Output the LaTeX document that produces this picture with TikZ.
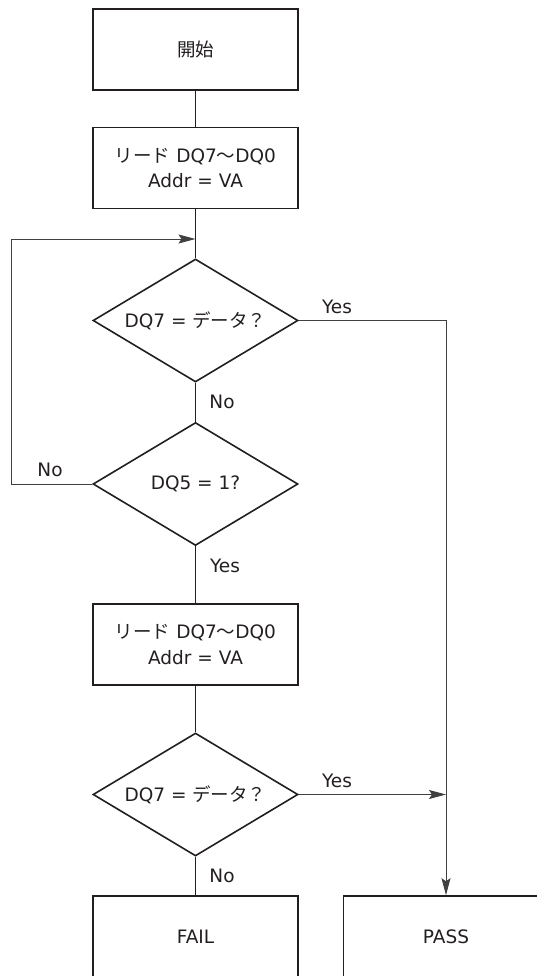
\documentclass[tikz,border=0pt]{standalone}
\usepackage{fontspec}
\setmainfont{DejaVu Sans}
\newfontfamily\jpfont{Noto Sans CJK JP}
\usepackage{tikz}
\usetikzlibrary{shapes.geometric,arrows.meta}
\definecolor{ink}{HTML}{231F20}
\definecolor{thin}{HTML}{404040}
\tikzset{
every node/.style={font=\fontsize{18.5}{25}\selectfont, text=ink}, % all texts
stepbox/.style={draw=ink, line width=1.6pt, minimum width=205pt, minimum height=81pt, inner sep=0pt, align=center},
test/.style={diamond, draw=ink, line width=1.6pt, minimum width=205pt, minimum height=123pt, aspect=1.67, inner sep=0pt},
trunk/.style={draw=ink, line width=1.2pt},
wire/.style={draw=thin, line width=0.9pt},
flow/.style={-{Stealth[length=17pt,width=9pt,inset=3pt]}},
lbl/.style={inner sep=0pt},
}

\begin{document}
\begin{tikzpicture}[x=1pt,y=1pt,yscale=-1,xscale=1]
\clip (0,0) rectangle (537,976);
%Boxes
\node (start) at (195.5,49.5) [stepbox] {\jpfont 開始};
\node (read1) at (195.5,168) [stepbox] {\raisebox{-4pt}{\shortstack{{\jpfont リード} DQ7{\jpfont 〜}DQ0\\[6pt]Addr = VA}}};
\node (read2) at (195.5,644.5) [stepbox] {\raisebox{-4pt}{\shortstack{{\jpfont リード} DQ7{\jpfont 〜}DQ0\\[6pt]Addr = VA}}};
\node (fail) at (195.5,936.5) [stepbox] {FAIL};
\node (pass) at (446,936.5) [stepbox] {PASS};
%Diamonds
\node (chk1) at (195.5,320.5) [test] {DQ7 = {\jpfont データ？}};
\node (chk2) at (195.5,484) [test] {DQ5 = 1?};
\node (chk3) at (195.5,794.5) [test] {DQ7 = {\jpfont データ？}};
\coordinate (merge) at (195.5,239);
\coordinate (join) at (pass.north |- chk3.east);
%Lines
\draw[trunk] (start) -- (read1);
\draw[trunk] (read1) -- (chk1);
\draw[trunk] (chk1) -- (chk2);
\draw[trunk] (chk2) -- (read2);
\draw[trunk] (read2) -- (chk3);
\draw[trunk] (chk3) -- (fail);
\draw[wire,flow] (chk2.west) -- ++(-81,0) |- (merge);
\draw[wire,flow] (chk1.east) -| (pass.north);
\draw[wire,flow] (chk3.east) -- (join);
%Labels
\node (yes1) at (337,307) [lbl] {Yes};
\node (no1) at (222,402) [lbl] {No};
\node (no2) at (50,470) [lbl] {No};
\node (yes2) at (225,566) [lbl] {Yes};
\node (yes3) at (337,781) [lbl] {Yes};
\node (no3) at (222,876) [lbl] {No};
\end{tikzpicture}
\end{document}
